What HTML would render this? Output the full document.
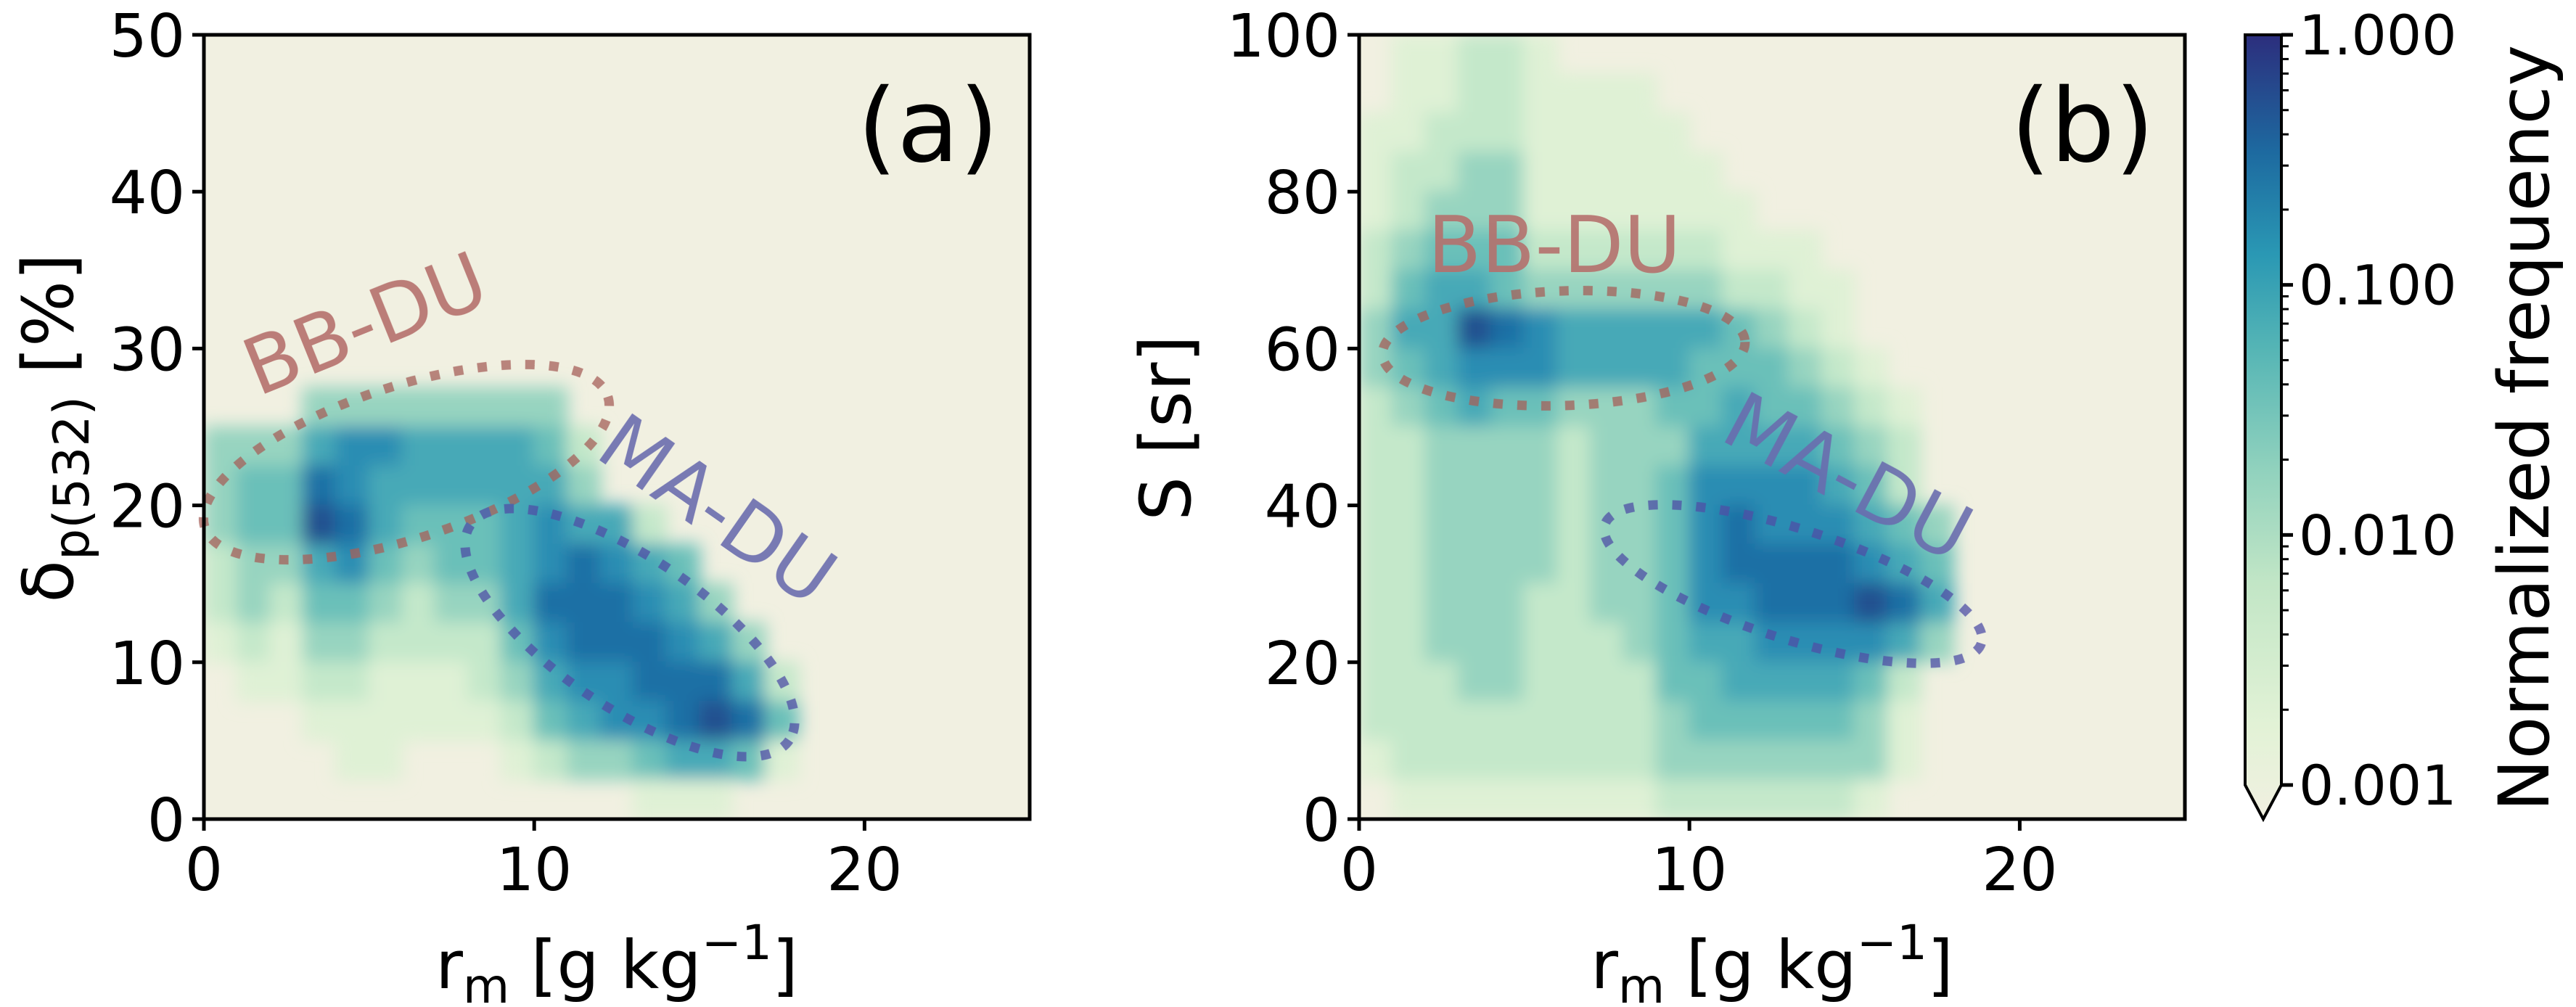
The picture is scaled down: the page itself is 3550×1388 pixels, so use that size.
<!DOCTYPE html>
<html><head><meta charset="utf-8"><style>
body{margin:0;background:#fff;}
svg{display:block;font-family:"DejaVu Sans","Liberation Sans",sans-serif;}
</style></head><body>
<svg id="fig" width="3550" height="1388" viewBox="0 0 3550 1388" xmlns="http://www.w3.org/2000/svg">
<defs>
<filter id="blur" x="-5%" y="-5%" width="110%" height="110%"><feGaussianBlur stdDeviation="12"/></filter>
<clipPath id="clipA"><rect x="281" y="48" width="1138" height="1081"/></clipPath>
<clipPath id="clipB"><rect x="1873" y="48" width="1138" height="1081"/></clipPath>
<linearGradient id="cbgrad" x1="0" y1="1" x2="0" y2="0">
<stop offset="0" stop-color="#f1f0e1"/><stop offset="0.12" stop-color="#e2f2d6"/><stop offset="0.3" stop-color="#c2e6c6"/>
<stop offset="0.45" stop-color="#8fd1bd"/><stop offset="0.6" stop-color="#55b5b5"/><stop offset="0.72" stop-color="#2a98b4"/>
<stop offset="0.85" stop-color="#1d6aa0"/><stop offset="1" stop-color="#2c2e7d"/></linearGradient>
</defs>
<g id="panelA">
<rect x="281" y="48" width="1138" height="1081" fill="#f1f0e1"/>
<g id="heatA" clip-path="url(#clipA)"><g id="heatAin" filter="url(#blur)"></g></g>
</g>
<g id="panelB">
<rect x="1873" y="48" width="1138" height="1081" fill="#f1f0e1"/>
<g id="heatB" clip-path="url(#clipB)"><g id="heatBin" filter="url(#blur)"></g></g>
</g>
<g fill="none" stroke-width="13" stroke-dasharray="13 20" opacity="0.75">
<ellipse cx="560" cy="637" rx="292" ry="105" transform="rotate(-18 560 637)" stroke="#a6605a"/>
<ellipse cx="868" cy="872" rx="265" ry="103" transform="rotate(34 868 872)" stroke="#4f4fa6"/>
<ellipse cx="2155" cy="480" rx="250" ry="79" transform="rotate(-2 2155 480)" stroke="#a6605a"/>
<ellipse cx="2471" cy="805" rx="272" ry="76" transform="rotate(17.5 2471 805)" stroke="#4f4fa6"/>
</g>
<g font-size="108" opacity="0.9">
<text x="503" y="484" text-anchor="middle" fill="#b5706c" transform="rotate(-22 503 446)">BB-DU</text>
<text x="989" y="740" text-anchor="middle" fill="#6a6cae" transform="rotate(35 989 702)">MA-DU</text>
<text x="2142" y="375" text-anchor="middle" fill="#b5706c">BB-DU</text>
<text x="2547" y="695" text-anchor="middle" fill="#6a6cae" transform="rotate(28 2547 657)">MA-DU</text>
</g>
<text x="1279" y="222" font-size="140" text-anchor="middle">(a)</text>
<text x="2870" y="222" font-size="140" text-anchor="middle">(b)</text>
<g id="axes"></g>
<rect x="281" y="48" width="1138" height="1081" fill="none" stroke="#000" stroke-width="5"/>
<rect x="1873" y="48" width="1138" height="1081" fill="none" stroke="#000" stroke-width="5"/>
<text transform="translate(100 590) rotate(-90)" font-size="96" text-anchor="middle">δ<tspan font-size="68" dy="22">p(532)</tspan><tspan dy="-22"> [%]</tspan></text>
<text transform="translate(1640 590) rotate(-90)" font-size="96" text-anchor="middle">S [sr]</text>
<text x="850" y="1362" font-size="92" text-anchor="middle">r<tspan font-size="66" dy="20">m</tspan><tspan dy="-20"> [g kg</tspan><tspan font-size="66" dy="-40">−1</tspan><tspan dy="40">]</tspan></text>
<text x="2442" y="1362" font-size="92" text-anchor="middle">r<tspan font-size="66" dy="20">m</tspan><tspan dy="-20"> [g kg</tspan><tspan font-size="66" dy="-40">−1</tspan><tspan dy="40">]</tspan></text>
<g>
<path d="M3094 48 H3144 V1082 L3119 1129 L3094 1082 Z" fill="url(#cbgrad)" stroke="#000" stroke-width="4"/>
<g id="cbticks"></g>
<text transform="translate(3512 590) rotate(-90)" font-size="96" text-anchor="middle">Normalized frequency</text>
</g>
</svg>
<script>
// Panel (a): x bins 0..25 step 1, y bins step 2.5 (rows listed top y=50 down to 0); level 0 = background, 9 = max
const levelsA = [
"0000000000000000000000000","0000000000000000000000000","0000000000000000000000000",
"0000000000000000000000000","0000000000000000000000000","0000000000000000000000000",
"0000000000000000000000000","0000000000000000000000000","0000000000000000000000000",
"0003333333300000000000000",
"3335665555420000000000000",
"3447655555530000000000000",
"3448754445655200000000000",
"2335643445676540000000000",
"2324432335777653000000000",
"1213322224677765300000000",
"0112211123566777520000000",
"0001111112456678740000000",
"0000110001233455410000000",
"0000000000000111000000000"];
// Panel (b): x bins 0..25 step 1, y bins step 5 (rows top y=100 down to 0)
const levelsB = [
"0112210000000000000000000","0112211110000000000000000","1122211111000000000000000",
"1223311111100000000000000","1233311111110000000000000","2344422222211100000000000",
"2455433333322110000000000","3558765555543210000000000","3456665555444321000000000",
"2345443334454432100000000","2233332333555543200000000","2233332334666654200000000",
"2233332334676665430000000","2233332334677776540000000","2233322334667778750000000",
"2233322234556666530000000","2223322224455554200000000","2222222223444443100000000",
"1222222223333333100000000","0111111112222221000000000"];
const levelColors = ["#f1f0e1","#dff1d5","#c4e8ca","#97d4c0","#6bc0b9","#46a9b7","#2b8db3","#1d6fa5","#23508f","#2d317f"];
const xTicks = [0,10,20];
const yTicksA = [0,10,20,30,40,50];
const yTicksB = [0,20,40,60,80,100];
const cbTicks = ["1.000","0.100","0.010","0.001"];

const NS="http://www.w3.org/2000/svg";
function mk(tag,attrs,parent){const e=document.createElementNS(NS,tag);for(const k in attrs)e.setAttribute(k,attrs[k]);parent.appendChild(e);return e;}
const X0A=281,X0B=1873,W=1138,Y0=1129,H=1081;
function xs(x0,v){return x0+v/25*W;}
function ys(v,ymax){return Y0-v/ymax*H;}
function drawHeat(gid,levels,x0,ymax){
  const g=document.getElementById(gid);
  const nr=levels.length, dy=ymax/nr;
  levels.forEach((row,ri)=>{
    const yTop=ymax-ri*dy;
    for(let ci=0;ci<row.length;ci++){
      const lv=+row[ci]; if(lv===0)continue;
      const r=mk('rect',{x:xs(x0,ci)-1,y:ys(yTop,ymax)-1,width:W/25+2,height:H/nr+2,fill:levelColors[lv]},g);
      
      
    }
  });
}
drawHeat('heatAin',levelsA,X0A,50);
drawHeat('heatBin',levelsB,X0B,100);
const ax=document.getElementById('axes');
function ticks(x0,yt,ymax,p){
  xTicks.forEach(v=>{
    const x=xs(x0,v);
    const l=mk('line',{x1:x,x2:x,y1:Y0,y2:Y0+16,stroke:'#000','stroke-width':5},ax);
    
    
    const t=mk('text',{x:x,y:Y0+98,'font-size':82,'text-anchor':'middle'},ax);t.textContent=v;
    
    
  });
  yt.forEach(v=>{
    const y=ys(v,ymax);
    const l=mk('line',{x1:x0-16,x2:x0,y1:y,y2:y,stroke:'#000','stroke-width':5},ax);
    
    
    const t=mk('text',{x:x0-26,y:y+30,'font-size':82,'text-anchor':'end'},ax);t.textContent=v;
    
    
  });
}
ticks(X0A,yTicksA,50,'a');
ticks(X0B,yTicksB,100,'b');
const cb=document.getElementById('cbticks');
cbTicks.forEach((s,i)=>{
  const y=48+i*(1082-48)/3;
  const l=mk('line',{x1:3144,x2:3160,y1:y,y2:y,stroke:'#000','stroke-width':5},cb);
  
  
  const t=mk('text',{x:3168,y:y+27,'font-size':76},cb);t.textContent=s;
  
  
  if(i<3){for(let k=2;k<10;k++){const yy=y+(1-Math.log10(k))*(1082-48)/3;
    const m=mk('line',{x1:3144,x2:3154,y1:yy,y2:yy,stroke:'#000','stroke-width':3},cb);
    
    }}
});
</script>
</body></html>
